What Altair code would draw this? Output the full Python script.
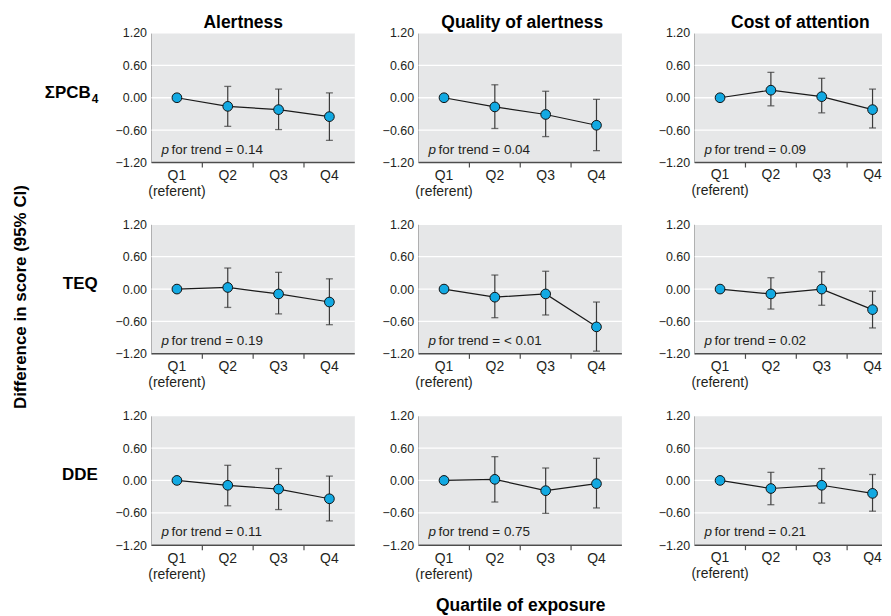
import altair as alt
import pandas as pd

quartiles = ["Q1", "Q2", "Q3", "Q4"]
quartile_labels = ["Q1\n(referent)", "Q2", "Q3", "Q4"]
outcomes = ["Alertness", "Quality of alertness", "Cost of attention"]
exposure_names = ["ΣPCB", "TEQ", "DDE"]
exposure_subscripts = ["4", "", ""]

# per exposure: lists for [Alertness, Quality of alertness, Cost of attention]
pcb_est = [[0, -0.16, -0.22, -0.35], [0, -0.17, -0.31, -0.51], [0, 0.14, 0.02, -0.22]]
pcb_lo = [[None, -0.53, -0.59, -0.79], [None, -0.57, -0.72, -0.98], [None, -0.15, -0.28, -0.56]]
pcb_hi = [[None, 0.21, 0.16, 0.09], [None, 0.24, 0.12, -0.03], [None, 0.47, 0.36, 0.16]]

teq_est = [[0, 0.03, -0.09, -0.24], [0, -0.15, -0.09, -0.70], [0, -0.09, 0.0, -0.38]]
teq_lo = [[None, -0.34, -0.46, -0.66], [None, -0.53, -0.48, -1.15], [None, -0.37, -0.30, -0.72]]
teq_hi = [[None, 0.39, 0.31, 0.19], [None, 0.26, 0.33, -0.24], [None, 0.21, 0.32, -0.04]]

dde_est = [[0, -0.09, -0.16, -0.34], [0, 0.02, -0.19, -0.06], [0, -0.15, -0.09, -0.24]]
dde_lo = [[None, -0.47, -0.54, -0.75], [None, -0.40, -0.61, -0.51], [None, -0.45, -0.42, -0.57]]
dde_hi = [[None, 0.28, 0.22, 0.08], [None, 0.44, 0.23, 0.41], [None, 0.15, 0.22, 0.11]]

p_trend = [["0.14", "0.04", "0.09"], ["0.19", "< 0.01", "0.02"], ["0.11", "0.75", "0.21"]]
y_ticks = [-1.2, -0.6, 0.0, 0.6, 1.2]

y_title = "Difference in score (95% CI)"
x_title = "Quartile of exposure"

EST = [pcb_est, teq_est, dde_est]
LO = [pcb_lo, teq_lo, dde_lo]
HI = [pcb_hi, teq_hi, dde_hi]

FONT = "Liberation Sans, Arial, sans-serif"
BAND_W = 204          # width of the four quartile bands
VIEW_W = [204, 213, 188]   # view widths per column (extra room sets gaps / right clip)
BG_W = [204, 204, 188]     # grey panel widths
TITLE_DX = [-10, -2.5, 12]
H = 130
TXT = "#231f20"
AXC = "#4d4d4d"
BLUE = "#12a9e2"
GREY = "#e6e7e8"


def panel(r, c):
    df = pd.DataFrame({"q": quartiles, "lab": quartile_labels,
                       "est": EST[r][c], "lo": LO[r][c], "hi": HI[r][c]})
    show_xtitle = (r == 2 and c == 1)
    if c == 2:
        xaxis = None
    else:
        xaxis = alt.Axis(
            ticks=False, domain=False, grid=False,
            labelAngle=0, labelPadding=6, labelFontSize=14, labelColor=TXT,
            labelFont=FONT, labelLineHeight=16,
            labelExpr="datum.label == 'Q1' ? ['Q1', '(referent)'] : datum.label",
            title=x_title if show_xtitle else None,
            titleFont=FONT, titleFontSize=17.5, titleFontWeight="bold", titleColor="black",
            titlePadding=16,
        )
    xscale = alt.Scale(type="band", domain=quartiles, paddingInner=0, paddingOuter=0, range=[0, BAND_W])
    yscale = alt.Scale(domain=[-1.2, 1.2], nice=False, zero=False)
    yaxis = alt.Axis(values=y_ticks, format=".2f", ticks=False, grid=False, domainColor=AXC, domainWidth=1.5,
                     labelPadding=5, labelOverlap=False, labelFontSize=12.5, labelColor=TXT, labelFont=FONT,
                     title=None)
    xenc = alt.X("q:N", scale=xscale, axis=xaxis)

    one = pd.DataFrame({"k": [0]})
    bg = alt.Chart(one).mark_rect(color=GREY).encode(
        x=alt.value(0), x2=alt.value(BG_W[c]), y=alt.value(0), y2=alt.value(H))
    grid = alt.Chart(pd.DataFrame({"g": y_ticks})).mark_rule(color="white", strokeWidth=1.3).encode(
        y=alt.Y("g:Q", scale=yscale, axis=yaxis), x=alt.value(0), x2=alt.value(BG_W[c]))
    xdom = alt.Chart(one).mark_rule(color=AXC, strokeWidth=1.5).encode(
        x=alt.value(0), x2=alt.value(BG_W[c]), y=alt.value(H))
    ticks = alt.Chart(pd.DataFrame({"q": quartiles[1:]})).mark_rule(color=AXC, strokeWidth=1.2).encode(
        x=alt.X("q:N", scale=xscale, axis=xaxis, bandPosition=0), y=alt.value(H), y2=alt.value(H + 5))

    base = alt.Chart(df)
    line = base.mark_line(color="#1a1a1a", strokeWidth=1.2).encode(
        x=xenc, y=alt.Y("est:Q", scale=yscale, axis=yaxis))
    ci = base.transform_filter("isValid(datum.lo)")
    bars = ci.mark_rule(color="#3a3a3a", strokeWidth=1.2).encode(
        x=xenc, y=alt.Y("lo:Q", scale=yscale, axis=yaxis), y2="hi:Q")
    cap_lo = ci.mark_tick(color="#3a3a3a", size=7, thickness=1.3, orient="horizontal").encode(
        x=xenc, y=alt.Y("lo:Q", scale=yscale, axis=yaxis))
    cap_hi = ci.mark_tick(color="#3a3a3a", size=7, thickness=1.3, orient="horizontal").encode(
        x=xenc, y=alt.Y("hi:Q", scale=yscale, axis=yaxis))
    pts = base.mark_circle(size=95, color=BLUE, opacity=1, stroke="#111111", strokeWidth=1).encode(
        x=xenc, y=alt.Y("est:Q", scale=yscale, axis=yaxis))

    pdf = pd.DataFrame({"a": ["p"], "b": ["for trend = " + p_trend[r][c]]})
    p1 = alt.Chart(pdf).mark_text(font=FONT, fontSize=13.5, fontStyle="italic", color=TXT, align="left",
                                  baseline="alphabetic").encode(x=alt.value(10), y=alt.value(H - 9), text="a:N")
    p2 = alt.Chart(pdf).mark_text(font=FONT, fontSize=13.5, color=TXT, align="left",
                                  baseline="alphabetic").encode(x=alt.value(20), y=alt.value(H - 9), text="b:N")
    layers = [bg, grid, xdom, ticks, bars, cap_lo, cap_hi, line, pts, p1, p2]

    if c == 2:
        xlab = base.mark_text(font=FONT, fontSize=14, color=TXT, align="center", baseline="top",
                              lineBreak="\n", lineHeight=16).encode(
            x=xenc, y=alt.value(H + 6), text="lab:N")
        layers += [xlab]

    if c == 0:
        ldf = pd.DataFrame({"n": [exposure_names[r]], "s": [exposure_subscripts[r]]})
        if exposure_subscripts[r]:
            nm = alt.Chart(ldf).mark_text(font=FONT, fontSize=17, fontWeight="bold", color="black", align="right",
                                          baseline="middle").encode(x=alt.value(-61), y=alt.value(60), text="n:N")
            sb = alt.Chart(ldf).mark_text(font=FONT, fontSize=12, fontWeight="bold", color="black", align="left",
                                          baseline="middle").encode(x=alt.value(-60), y=alt.value(66), text="s:N")
            layers += [nm, sb]
        else:
            nm = alt.Chart(ldf).mark_text(font=FONT, fontSize=17, fontWeight="bold", color="black", align="right",
                                          baseline="middle").encode(x=alt.value(-54), y=alt.value(60), text="n:N")
            layers += [nm]
        if r == 1:
            tdf = pd.DataFrame({"t": [y_title]})
            yt = alt.Chart(tdf).mark_text(font=FONT, fontSize=17, fontWeight="bold", color="black", angle=270,
                                          align="center", baseline="middle").encode(
                x=alt.value(-131), y=alt.value(H / 2 + 8), text="t:N")
            layers += [yt]

    props = dict(width=VIEW_W[c], height=H)
    if r == 0:
        props["title"] = alt.TitleParams(outcomes[c], font=FONT, fontSize=17.5, fontWeight="bold", color="black",
                                         anchor="middle", offset=-5, dx=TITLE_DX[c])
    return alt.layer(*layers).properties(**props)


panels = [panel(r, c) for r in range(3) for c in range(3)]

chart = alt.concat(*panels, columns=3, align="each", spacing={"row": 62, "column": 64},
                   bounds="flush").properties(
    padding={"left": 3, "top": 5, "right": 0, "bottom": 0}
).configure(font=FONT, background="white").configure_view(strokeWidth=0)

chart.save("out.html", embed_options={"renderer": "svg", "actions": False})
